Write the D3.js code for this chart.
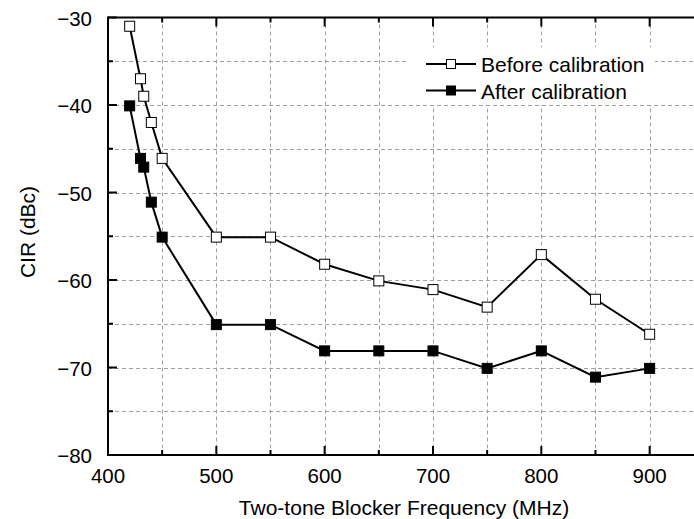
<!DOCTYPE html>
<html>
<head>
<meta charset="utf-8">
<script src="https://cdn.jsdelivr.net/npm/d3@7"></script>
<style>
  body { margin: 0; background: #fff; }
  svg { display: block; font-family: "Liberation Sans", Arial, sans-serif; }
</style>
</head>
<body>
<svg id="chart" width="694" height="519"></svg>
<script>
// data
var freqBefore = [420, 430, 433, 440, 450, 500, 550, 600, 650, 700, 750, 800, 850, 900];
var cirBefore = [-31, -37, -39, -42, -46.1, -55.1, -55.1, -58.2, -60.1, -61.1, -63.1, -57.1, -62.2, -66.2];
var freqAfter = [420, 430, 433, 440, 450, 500, 550, 600, 650, 700, 750, 800, 850, 900];
var cirAfter = [-40.1, -46.1, -47.1, -51.1, -55.1, -65.1, -65.1, -68.1, -68.1, -68.1, -70.1, -68.1, -71.1, -70.1];
var xMajor = [400, 500, 600, 700, 800, 900];
var yMajor = [-30, -40, -50, -60, -70, -80];
var legendNames = ["Before calibration", "After calibration"];

var svg = d3.select("#chart");
var plotL = 108, plotT = 17.5, plotB = 455;

//scales
var x = d3.scaleLinear().domain([400, 950]).range([plotL, plotL + 550 * 1.0833]);
var y = d3.scaleLinear().domain([-80, -30]).range([plotB, plotT]);

var xMinor = d3.range(450, 951, 50);
var yMinor = d3.range(-75, -30, 5);

//grid
var grid = svg.append("g").attr("stroke", "#a0a0a0").attr("stroke-width", 1).attr("stroke-dasharray", "4,3");
grid.selectAll(".vg").data(xMinor).join("line")
  .attr("x1", d => Math.round(x(d)) + 0.5).attr("x2", d => Math.round(x(d)) + 0.5)
  .attr("y1", plotT).attr("y2", plotB);
grid.selectAll(".hg").data(yMinor).join("line")
  .attr("x1", plotL).attr("x2", 694)
  .attr("y1", d => Math.round(y(d)) + 0.5).attr("y2", d => Math.round(y(d)) + 0.5);

//legend background hides grid
svg.append("rect").attr("x", 408).attr("y", 47).attr("width", 247).attr("height", 58).attr("fill", "#fff");

function drawTicks(g, vals, fn) { g.selectAll("line.t").data(vals).join("line").attr("class", "t").each(fn); }

var frame = svg.append("g").attr("stroke", "#000").attr("stroke-width", 2);
frame.append("line").attr("x1", plotL).attr("x2", 694).attr("y1", plotB).attr("y2", plotB);
frame.append("line").attr("x1", plotL).attr("x2", 694).attr("y1", plotT).attr("y2", plotT);
frame.append("line").attr("x1", plotL).attr("x2", plotL).attr("y1", plotT - 1).attr("y2", plotB + 1);

//ticks pointing inward
var tickG = svg.append("g").attr("stroke", "#000").attr("stroke-width", 2);
drawTicks(tickG.append("g"), d3.range(400, 951, 50), function (d) {
  var len = d % 100 === 0 ? 9 : 5;
  d3.select(this).attr("x1", x(d)).attr("x2", x(d)).attr("y1", plotB).attr("y2", plotB - len);
});
drawTicks(tickG.append("g"), d3.range(400, 951, 50), function (d) {
  var len = d % 100 === 0 ? 9 : 5;
  d3.select(this).attr("x1", x(d)).attr("x2", x(d)).attr("y1", plotT).attr("y2", plotT + len);
});
drawTicks(tickG.append("g"), d3.range(-80, -29, 5), function (d) {
  var len = d % 10 === 0 ? 9 : 5;
  d3.select(this).attr("x1", plotL).attr("x2", plotL + len).attr("y1", y(d)).attr("y2", y(d));
});

//tick labels
var fmt = v => (v < 0 ? "\u2212" + Math.abs(v) : String(v));
svg.append("g").selectAll("text").data(xMajor).join("text")
  .attr("x", d => x(d)).attr("y", 483).attr("text-anchor", "middle")
  .attr("font-size", 20.5).text(d => d);
svg.append("g").selectAll("text").data(yMajor).join("text")
  .attr("x", 92).attr("y", d => y(d) + 8).attr("text-anchor", "end")
  .attr("font-size", 20.5).text(fmt);

//axis titles
svg.append("text").attr("x", 404).attr("y", 515).attr("text-anchor", "middle")
  .attr("font-size", 21).text("Two-tone Blocker Frequency (MHz)");
svg.append("text").attr("transform", "translate(35,232) rotate(-90)").attr("text-anchor", "middle")
  .attr("font-size", 21).text("CIR (dBc)");

//series
var series = [
  { name: legendNames[0], xs: freqBefore, ys: cirBefore, fill: "#fff" },
  { name: legendNames[1], xs: freqAfter, ys: cirAfter, fill: "#000" },
];
var line = d3.line().x(d => x(d[0])).y(d => y(d[1]));
series.forEach(function (s) {
  var pts = d3.zip(s.xs, s.ys);
  svg.append("path").datum(pts).attr("d", line)
    .attr("fill", "none").attr("stroke", "#000").attr("stroke-width", 2);
  svg.append("g").selectAll("rect").data(pts).join("rect")
    .attr("x", d => x(d[0]) - 5).attr("y", d => y(d[1]) - 5)
    .attr("width", 10).attr("height", 10)
    .attr("fill", s.fill).attr("stroke", "#000").attr("stroke-width", 1);
});

//legend
var leg = svg.append("g").selectAll("g").data(series).join("g")
  .attr("transform", (d, i) => "translate(426," + (64 + i * 26.5) + ")");
leg.append("line").attr("x1", 0).attr("x2", 50).attr("stroke", "#000").attr("stroke-width", 2);
leg.append("rect").attr("x", 20.5).attr("y", -4.5).attr("width", 9).attr("height", 9)
  .attr("fill", d => d.fill).attr("stroke", "#000").attr("stroke-width", 1);
leg.append("text").attr("x", 55).attr("y", 8).attr("font-size", 21).text(d => d.name);
</script>
</body>
</html>
